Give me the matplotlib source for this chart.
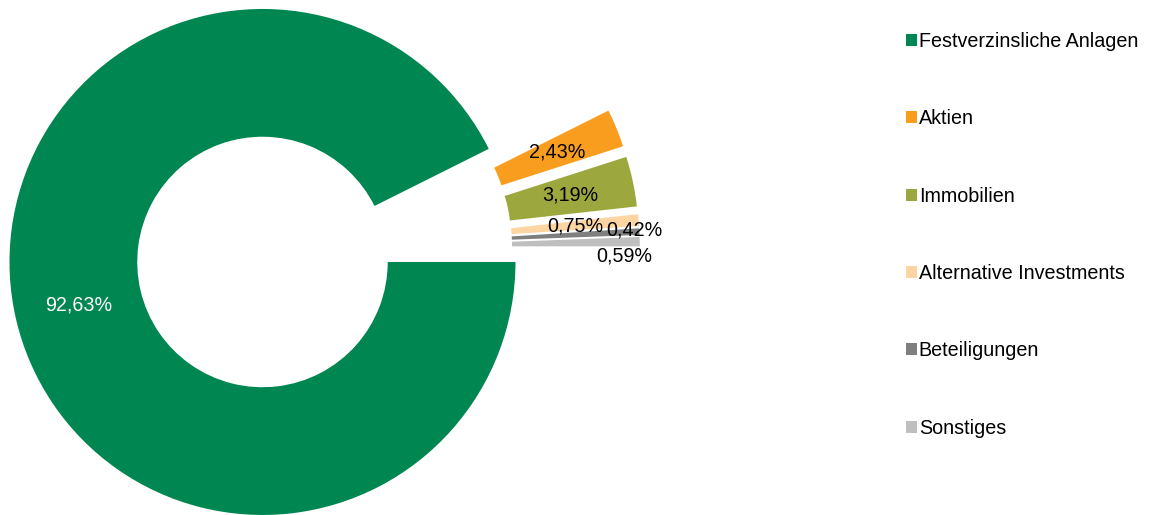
import numpy as np
import matplotlib.pyplot as plt
from matplotlib.patches import Patch

plt.rcParams['font.family'] = ['Liberation Sans', 'DejaVu Sans']

categories = ['Festverzinsliche Anlagen', 'Aktien', 'Immobilien',
              'Alternative Investments', 'Beteiligungen', 'Sonstiges']
shares = [92.63, 2.43, 3.19, 0.75, 0.42, 0.59]
colors = ['#008651', '#F99D1E', '#9CA73D', '#FDD5A3', '#7F7F7F', '#BFBFBF']

W, H = 1151, 515
fig = plt.figure(figsize=(W / 100, H / 100), dpi=100)
ax = fig.add_axes([0, 0, 1, 1])

# pie drawn in pixel units; every slice pulled out by the same amount
cx, cy, r = 323.8, H - 247.5, 253
explode = [63] * len(shares)
wedges, _ = ax.pie(shares, colors=colors, startangle=0, counterclock=False,
                   explode=explode, center=(cx, cy), radius=r,
                   wedgeprops=dict(width=r * 0.505, linewidth=0))
ax.set_xlim(0, W)
ax.set_ylim(0, H)
ax.set_aspect('auto')
ax.axis('off')

# data labels sit mid-ring; the two smallest are nudged out of the way
label_r = 189
label_shift = [(0, 0), (0, 0), (0, 0), (0, 0), (59, 5), (48, -13)]
for w, v, (dx, dy) in zip(wedges, shares, label_shift):
    mid = np.deg2rad((w.theta1 + w.theta2) / 2)
    x0, y0 = w.center
    txt = f'{v:.2f}%'.replace('.', ',')
    ax.text(x0 + label_r * np.cos(mid) + dx, y0 + label_r * np.sin(mid) + dy,
            txt, ha='center', va='center', fontsize=14.2,
            color='white' if v > 50 else 'black')

handles = [Patch(facecolor=c, edgecolor='none') for c in colors]
fig.legend(handles, categories, loc='upper left',
           bbox_to_anchor=(898 / W, 1 - 24 / H), frameon=False,
           fontsize=14.2, handlelength=0.55, handleheight=0.55,
           handletextpad=0.1, labelspacing=2.96, borderaxespad=0)

fig.savefig('out.png', dpi=100, facecolor='white')
